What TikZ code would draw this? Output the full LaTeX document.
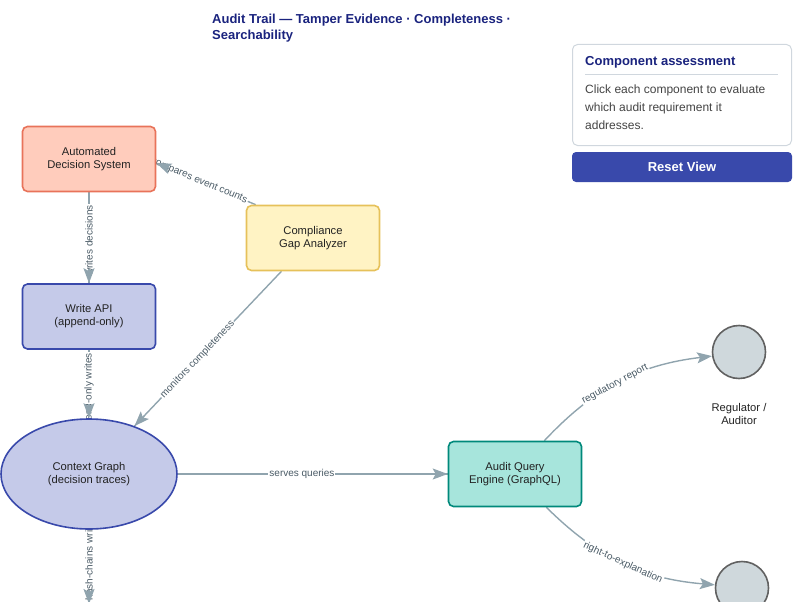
\documentclass[tikz,border=0pt]{standalone}
\usepackage{fontspec}
\setmainfont{Liberation Sans}
\usetikzlibrary{arrows.meta,calc,shapes.geometric}
\pgfdeclarelayer{background}
\pgfsetlayers{background,main}
\definecolor{navy}{HTML}{1A237E}
\definecolor{txt}{HTML}{222222}
\definecolor{adsfill}{HTML}{FFCCBC}
\definecolor{adsdraw}{HTML}{E8735A}
\definecolor{cgafill}{HTML}{FFF3C4}
\definecolor{cgadraw}{HTML}{E6C15A}
\definecolor{bluefill}{HTML}{C5CAE9}
\definecolor{bluedraw}{HTML}{3949AB}
\definecolor{aqefill}{HTML}{A7E5DC}
\definecolor{aqedraw}{HTML}{00897B}
\definecolor{circfill}{HTML}{CFD8DC}
\definecolor{circdraw}{HTML}{616161}
\definecolor{edgec}{HTML}{90A4AE}
\definecolor{lblc}{HTML}{4A5B66}
\definecolor{panelc}{HTML}{D0D7DE}
\definecolor{bodyc}{HTML}{444444}
\definecolor{btn}{HTML}{3949AB}
\begin{document}
\begin{tikzpicture}[x=1pt,y=-1pt,
  box/.style={draw, line width=1.6pt, rounded corners=5pt, minimum width=133pt, minimum height=65pt, align=center, font=\fontsize{11.2}{13}\selectfont, text=txt},
  edge/.style={draw=edgec, line width=1.4pt},
  tipc/.style={-{Stealth[length=15pt,width=11pt,inset=3pt]}, draw=edgec, line width=1.4pt},
  lbl/.style={fill=white, inner sep=1pt, font=\fontsize{10}{11}\selectfont, text=lblc},
  circ/.style={circle, draw=circdraw, fill=circfill, line width=1.6pt, minimum size=53pt, inner sep=0pt}]
\useasboundingbox (0,0) rectangle (800,602);
\clip (0,0) rectangle (800,602);

% title
\node[anchor=north west, align=left, inner sep=0pt, text=navy, font=\bfseries\fontsize{13}{16}\selectfont] (title) at (212,14) {Audit Trail — Tamper Evidence · Completeness ·\\Searchability};

% nodes
\node[box, fill=adsfill, draw=adsdraw] (ads) at (89,159) {Automated\\Decision System};
\node[box, fill=cgafill, draw=cgadraw] (cga) at (313,238) {Compliance\\Gap Analyzer};
\node[box, fill=bluefill, draw=bluedraw] (wapi) at (89,316.5) {Write API\\(append-only)};
\node[ellipse, draw=bluedraw, fill=bluefill, line width=1.6pt, minimum width=176pt, minimum height=110pt, align=center, font=\fontsize{11.2}{13}\selectfont, text=txt] (cg) at (89,474) {Context Graph\\(decision traces)};
\node[box, fill=aqefill, draw=aqedraw] (aqe) at (515,474) {Audit Query\\Engine (GraphQL)};
\node[circ] (reg) at (739,352) {};
\node[align=center, font=\fontsize{11.2}{13}\selectfont, text=txt] (reglbl) at (739,414) {Regulator /\\Auditor};
\node[circ] (expl) at (742,588) {};
\coordinate (hcend) at (89,604);

% edges
\begin{pgfonlayer}{background}
\coordinate (c1s) at ([xshift=10pt]cga.north west);
\coordinate (c1e) at ([yshift=-4pt]ads.east);
\draw[edge] (c1s) -- node[lbl, sloped, pos=0.57] {compares event counts} (c1e);
\draw[tipc] ($(c1e)!14pt!(c1s)$) -- (c1e);

\draw[edge] (ads.south) -- node[lbl, rotate=90, pos=0.53] {writes decisions} (wapi.north);
\draw[tipc] ($(wapi.north)!14pt!(ads.south)$) -- (wapi.north);

\draw[edge] (wapi.south) -- node[lbl, rotate=90, pos=0.66] {append-only writes} (cg.north);
\draw[tipc] ($(cg.north)!14pt!(wapi.south)$) -- (cg.north);

\draw[edge] (cg.south) -- node[lbl, rotate=90, pos=0.39] {hash-chains writes} (hcend);
\draw[tipc] ($(hcend)!14pt!(cg.south)$) -- (hcend);

\draw[edge] (cga) -- node[lbl, sloped, pos=0.57] {monitors completeness} coordinate[pos=1] (mce) (cg);
\draw[tipc] ($(mce)!14pt!(cga)$) -- (mce);

\draw[edge] (cg) -- node[lbl, pos=0.46] {serves queries} (aqe);
\draw[tipc] ($(aqe.west)!14pt!(cg.east)$) -- (aqe.west);

\draw[tipc] (aqe) to[bend left=20] node[lbl, sloped, pos=0.47] {regulatory report} (reg);
\draw[tipc] (aqe) to[bend right=20] node[lbl, sloped] {right-to-explanation} (expl);
\end{pgfonlayer}

% panel
\node[draw=panelc, fill=white, line width=1pt, rounded corners=5pt, minimum width=219pt, minimum height=101pt] (panel) at (682,95) {};
\node[anchor=west, inner sep=0pt, text=navy, font=\bfseries\fontsize{13}{15}\selectfont] (ptitle) at (585,62.5) {Component assessment};
\draw[draw=panelc, line width=0.8pt] (585,74) -- (778,74);
\node[anchor=north west, inner sep=0pt, align=left, text=bodyc, font=\fontsize{12}{18}\selectfont] (pbody) at (585,85) {Click each component to evaluate\\which audit requirement it\\addresses.};
\node[fill=btn, rounded corners=4pt, minimum width=220pt, minimum height=30pt, text=white, font=\bfseries\fontsize{13}{15}\selectfont] (reset) at (682,167) {Reset View};
\end{tikzpicture}
\end{document}
